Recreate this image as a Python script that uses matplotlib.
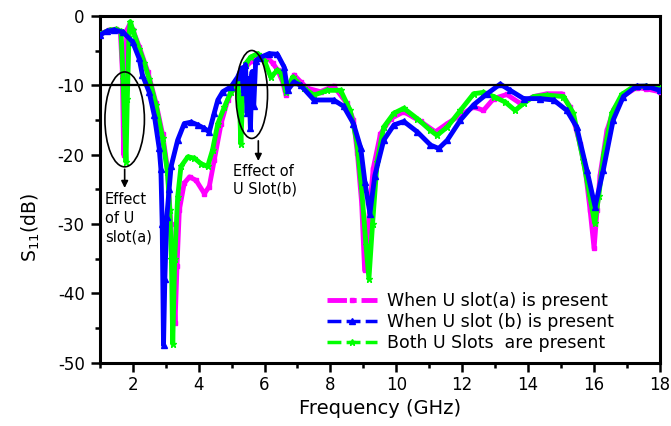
import matplotlib
matplotlib.use('Agg')
import matplotlib.pyplot as plt
from matplotlib.patches import Ellipse
from matplotlib.lines import Line2D

plt.rcParams['font.family'] = ['DejaVu Sans']
plt.rcParams['axes.unicode_minus'] = False

# U slot (a) only
freq_a = [1.0, 1.28, 1.5, 1.62, 1.68, 1.72, 1.76, 1.82, 1.9, 2.0, 2.2, 2.45, 2.7, 2.9, 3.05,
          3.15, 3.22, 3.28, 3.34, 3.41, 3.56, 3.72, 3.92, 4.17, 4.32, 4.47, 4.68, 4.88, 5.08,
          5.33, 5.6, 5.85, 6.05, 6.25, 6.4, 6.55, 6.65, 6.75, 6.9, 7.1, 7.3, 7.7, 8.1, 8.5,
          8.7, 8.82, 8.95, 9.04, 9.15, 9.3, 9.52, 9.83, 10.23, 10.74, 11.19, 11.55, 11.95,
          12.35, 12.65, 12.96, 13.36, 13.77, 14.17, 14.58, 15.03, 15.28, 15.58, 15.75, 15.89,
          16.01, 16.1, 16.19, 16.4, 16.6, 16.9, 17.3, 17.6, 18.0]
s11_a = [-2.6, -2.0, -1.9, -2.3, -8, -20, -8, -2, -1.2, -2.0, -4.5, -8.0, -12.5, -17, -22,
         -30, -38, -44.3, -36, -28, -24.1, -23.2, -23.7, -25.6, -24.6, -20.8, -15.5, -12.1, -10.2,
         -7.8, -6.5, -5.8, -5.8, -6.8, -7.8, -9.5, -11.4, -10.0, -8.5, -9.5, -10.4, -10.9, -10.1, -12.6,
         -15, -19.8, -27, -36.7, -30, -22, -17, -14.8, -13.8, -15.2, -16.7, -15.5, -14.3,
         -13.1, -13.6, -11.9, -11.3, -12.6, -11.6, -11.2, -11.2, -13.1, -18.4, -22.5, -28,
         -33.5, -28, -23, -16.5, -13.5, -11.5, -10.3, -10.5, -10.9]

# U slot (b) only
freq_b = [1.0, 1.2, 1.43, 1.7, 1.99, 2.19, 2.29, 2.49, 2.65, 2.8, 2.85, 2.89, 2.93, 2.97, 3.03,
          3.1, 3.16, 3.36, 3.56, 3.77, 3.97, 4.17, 4.32, 4.47, 4.58, 4.73, 4.98, 5.18, 5.3, 5.36,
          5.42, 5.47, 5.52, 5.57, 5.62, 5.67, 5.73, 5.85, 6.14, 6.39, 6.59, 6.7, 6.89, 7.1, 7.5,
          8.1, 8.4, 8.7, 8.92, 9.05, 9.2, 9.35, 9.62, 9.93, 10.23, 10.64, 11.04, 11.29, 11.55,
          11.95, 12.35, 12.76, 13.16, 13.46, 13.87, 14.37, 14.78, 15.18, 15.48, 15.79, 16.04,
          16.29, 16.59, 16.9, 17.3, 17.6, 18.0]
s11_b = [-2.7, -2.2, -2.0, -2.3, -3.7, -6.1, -8.5, -10.9, -14.3, -19.1, -22, -30, -47.5, -38, -29,
         -25, -21.7, -17.9, -15.5, -15.3, -15.7, -16.2, -16.7, -14, -12.1, -10.9, -10.2, -8.8, -7.5, -11,
         -7, -14, -9, -16.2, -8, -13, -6.5, -6, -5.4, -5.5, -7.3, -10.7, -9.5, -10, -12.1,
         -12.1, -13, -15.5, -19, -24, -28.5, -23, -17.9, -15.7, -15.2, -16.7, -18.6, -19.1, -17.9,
         -15, -12.8, -11.2, -9.8, -10.7, -11.9, -11.9, -12.1, -13.6, -16, -22.2, -27.5,
         -22.2, -15, -11.6, -10.1, -10.1, -10.7]

# both slots
freq_c = [1.0, 1.3, 1.5, 1.64, 1.7, 1.75, 1.79, 1.83, 1.88, 1.92, 2.0, 2.19, 2.35, 2.49, 2.7,
          2.9, 3.05, 3.12, 3.17, 3.21, 3.27, 3.36, 3.46, 3.67, 3.87, 4.07, 4.27, 4.42, 4.58, 4.78,
          4.98, 5.18, 5.24, 5.28, 5.33, 5.43, 5.58, 5.79, 6.0, 6.19, 6.39, 6.5, 6.65, 6.85, 7.2,
          7.5, 7.91, 8.31, 8.6, 8.8, 8.95, 9.08, 9.17, 9.28, 9.42, 9.62, 9.93, 10.23, 10.64,
          11.04, 11.24, 11.55, 11.95, 12.35, 12.65, 12.96, 13.31, 13.61, 13.87, 14.17, 14.58,
          15.08, 15.38, 15.68, 15.88, 16.03, 16.15, 16.3, 16.55, 16.85, 17.2, 17.6, 18.0]
s11_c = [-2.6, -2.0, -1.9, -2.2, -9, -16, -21, -12, -3, -0.8, -2.0, -4.7, -6.8, -9, -12.8,
         -17.6, -22.5, -28, -35, -47.3, -35, -26.1, -21.7, -20.3, -20.5, -21.3, -21.7, -19.3, -15.5, -13.1,
         -10.9, -9.2, -13, -18.4, -12, -6.8, -5.9, -5.4, -6.5, -8.8, -7.8, -8.2, -10.9, -8.8, -10.4,
         -11.4, -10.7, -10.7, -13.6, -18, -25, -33, -37.9, -30, -21, -16, -14, -13.3, -14.8,
         -16.5, -17.2, -16, -13.6, -11.2, -11.0, -11.6, -12.4, -13.6, -12.6, -11.6, -11.4,
         -11.6, -14, -20.8, -26, -29.9, -26, -20, -14, -11.3, -10.2, -10.1, -10.4]

labels = ['When U slot(a) is present', 'When U slot (b) is present', 'Both U Slots  are present']
colors = ['#ff00ff', '#0000ff', '#00ff00']

fig = plt.figure(figsize=(6.71, 4.26), dpi=100)
ax = fig.add_axes([0.149, 0.149, 0.834, 0.813])

ax.plot(freq_a, s11_a, color=colors[0], lw=3.5, marker='s', ms=3, zorder=3)
ax.plot(freq_c, s11_c, color=colors[2], lw=3.5, marker='*', ms=5, zorder=4)
ax.plot(freq_b, s11_b, color=colors[1], lw=3.5, marker='^', ms=4, zorder=5)

ax.axhline(-10, color='black', lw=1.6, zorder=6)

ax.set_xlim(1, 18)
ax.set_ylim(-50, 0)
ax.set_xticks(range(2, 19, 2))
ax.set_xticks(range(1, 19, 1), minor=True)
ax.set_yticks(range(-50, 1, 10))
ax.set_yticks(range(-50, 1, 5), minor=True)
ax.tick_params(which='both', direction='out', top=False, right=False, labelsize=12, width=1.8)
ax.tick_params(which='major', length=6.5, pad=3.5)
ax.tick_params(axis='y', which='major', pad=4.5)
ax.tick_params(which='minor', length=3.6)
for sp in ax.spines.values():
    sp.set_linewidth(2.2)

ax.set_xlabel('Frequency (GHz)', fontsize=14, labelpad=3)
ax.set_ylabel('S$_{11}$(dB)', fontsize=13.5)
ax.yaxis.set_label_coords(-0.103, 0.39)

# annotations
ax.add_patch(Ellipse((1.75, -14.9), 1.2, 13.7, fill=False, ec='black', lw=1.2, zorder=7))
ax.add_patch(Ellipse((5.61, -11.3), 0.96, 12.7, fill=False, ec='black', lw=1.2, zorder=7))
ax.annotate('', xy=(1.75, -25.2), xytext=(1.75, -21.7),
            arrowprops=dict(arrowstyle='-|>', color='black', lw=1.2, mutation_scale=10))
ax.annotate('', xy=(5.81, -21.3), xytext=(5.81, -17.6),
            arrowprops=dict(arrowstyle='-|>', color='black', lw=1.2, mutation_scale=10))
ax.text(1.15, -25.4, 'Effect\nof U\nslot(a)', fontsize=10.5, va='top', ha='left', linespacing=1.3)
ax.text(5.03, -21.3, 'Effect of\nU Slot(b)', fontsize=10.5, va='top', ha='left', linespacing=1.2)

handles = [
    Line2D([], [], color=colors[0], lw=3.5, ls=(0, (4, 1, 1, 1)), marker='s', ms=3, markevery=[1]),
    Line2D([], [], color=colors[1], lw=2.5, ls=(0, (4, 1.5)), marker='^', ms=4, markevery=[1]),
    Line2D([], [], color=colors[2], lw=2.5, ls=(0, (4, 1.5)), marker='*', ms=5, markevery=[1]),
]
for h in handles:
    h.set_data([0, 0.5, 1], [0, 0, 0])
ax.legend(handles, labels, loc='center left', bbox_to_anchor=(0.405, 0.117), frameon=False,
          fontsize=12.5, borderpad=0, borderaxespad=0, handlelength=2.9, handletextpad=0.55,
          labelspacing=0.15)

fig.savefig('out.png', dpi=100)
